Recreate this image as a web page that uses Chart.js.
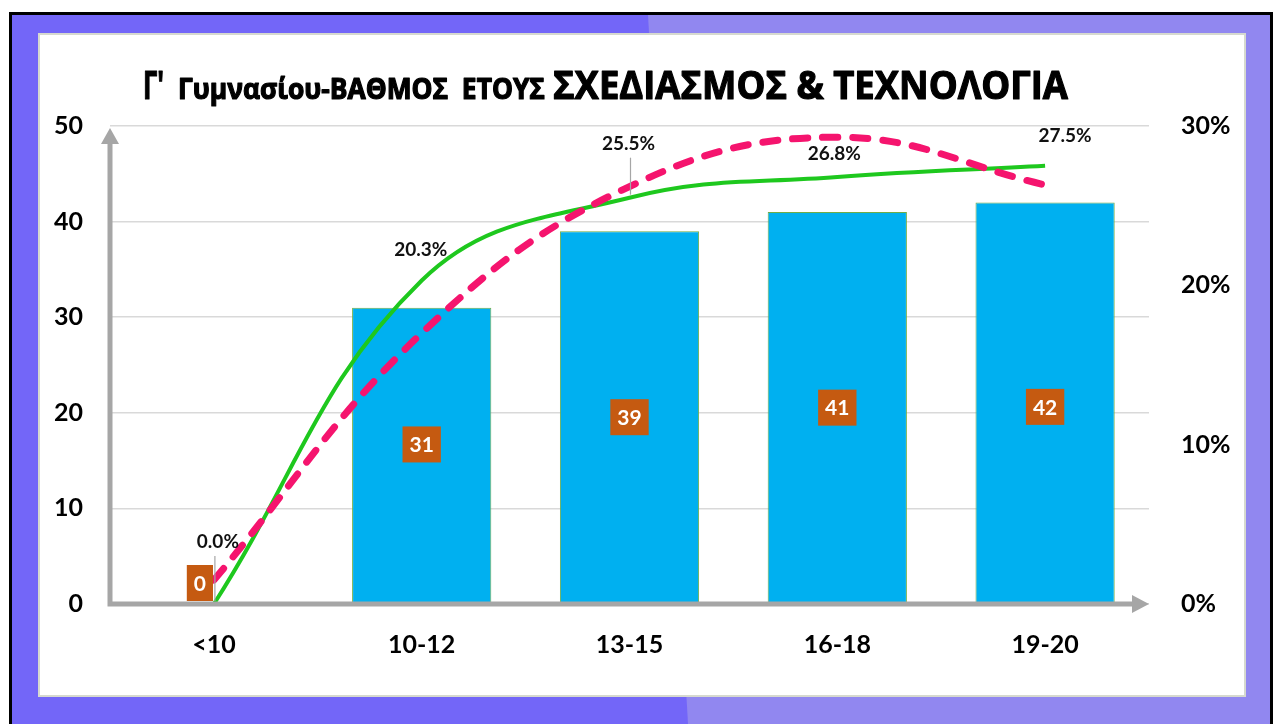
<!DOCTYPE html>
<html><head><meta charset="utf-8">
<script src="https://cdn.jsdelivr.net/npm/chart.js@4.4.1/dist/chart.umd.min.js"></script>
<style>
html,body{margin:0;padding:0;width:1276px;height:724px;overflow:hidden;background:#fff;}
#bg{position:absolute;left:9px;top:12px;width:1264px;height:712px;background:#7366f8;border-left:3px solid #000;border-top:3px solid #000;border-right:3px solid #000;box-sizing:border-box;}
#bg2{position:absolute;left:0;top:0;right:0;bottom:0;background:#9187f0;clip-path:polygon(636px 0,100% 0,100% 100%,676px 100%);}
#panel{position:absolute;left:38px;top:33px;width:1208px;height:664px;background:#fff;box-sizing:border-box;border:2px solid #d6d9cf;}
#c{position:absolute;left:0;top:0;}
</style></head>
<body>
<div id="bg"><div id="bg2"></div></div>
<div id="panel"></div>
<canvas id="c" width="1276" height="724"></canvas>
<script>
// ---- data ----
const categories = ['<10', '10-12', '13-15', '16-18', '19-20'];
const counts = [0, 31, 39, 41, 42];
const percents = [0.0, 20.3, 25.5, 26.8, 27.5];
const trendPercents = [1.5, 17.0, 26.2, 29.3, 26.3];
const leftTicks = [0, 10, 20, 30, 40, 50];
const rightTicks = ['0%', '10%', '20%', '30%'];
const titleParts = ["Γ'", "Γυμνασίου-ΒΑΘΜΟΣ  ΕΤΟΥΣ", "ΣΧΕΔΙΑΣΜΟΣ & ΤΕΧΝΟΛΟΓΙΑ"];

// ---- styling (positions / offsets) ----
const titleStyle = [
  {size: 39, x0: 143, x1: 164},
  {size: 28, x0: 178, x1: 545},
  {size: 39, x0: 553, x1: 1068}
];
const titleBaseline = 99;
const barLabelShift = [[-14, -21], [0, -11], [0, 0], [0, 0], [0, 4]];
const pctLabelShift = [[4, -62], [-1, -31], [-1, -54], [-3, -23], [20, -30]];
const pctLeader = [true, false, true, false, false];

const decor = {
  id: 'decor',
  beforeDraw(chart) {
    const ctx = chart.ctx;
    ctx.save();
    ctx.fillStyle = '#000';
    ctx.strokeStyle = '#000';
    ctx.lineJoin = 'round';
    ctx.textBaseline = 'alphabetic';
    titleParts.forEach((t, i) => {
      const s = titleStyle[i];
      ctx.font = 'bold ' + s.size + 'px "Open Sans"';
      const w = ctx.measureText(t).width;
      ctx.save();
      ctx.translate(s.x0, titleBaseline);
      ctx.scale((s.x1 - s.x0) / w, 1);
      ctx.lineWidth = 1.2;
      ctx.fillText(t, 0, 0);
      ctx.strokeText(t, 0, 0);
      ctx.restore();
    });
    ctx.restore();
  },
  afterDatasetsDraw(chart) {
    const ctx = chart.ctx;
    const a = chart.chartArea;
    ctx.save();
    // axes with arrows
    ctx.strokeStyle = '#a6a6a6';
    ctx.fillStyle = '#a6a6a6';
    ctx.lineWidth = 5;
    ctx.lineCap = 'butt';
    ctx.beginPath();
    ctx.moveTo(a.left, a.bottom);
    ctx.lineTo(a.left, a.top + 14);
    ctx.moveTo(a.left - 2.5, a.bottom);
    ctx.lineTo(a.right - 14, a.bottom);
    ctx.stroke();
    ctx.beginPath();
    ctx.moveTo(a.left, a.top + 2);
    ctx.lineTo(a.left - 9, a.top + 18);
    ctx.lineTo(a.left + 9, a.top + 18);
    ctx.closePath();
    ctx.fill();
    ctx.beginPath();
    ctx.moveTo(a.right, a.bottom);
    ctx.lineTo(a.right - 17, a.bottom - 9);
    ctx.lineTo(a.right - 17, a.bottom + 9);
    ctx.closePath();
    ctx.fill();

    // bar labels
    const barMeta = chart.getDatasetMeta(2);
    ctx.font = 'bold 21px Lato';
    ctx.textAlign = 'center';
    ctx.textBaseline = 'middle';
    barMeta.data.forEach((el, i) => {
      const cx = el.x + barLabelShift[i][0];
      const cy = (el.y + el.base) / 2 + barLabelShift[i][1];
      const txt = String(counts[i]);
      const w = ctx.measureText(txt).width + 14;
      const h = 36;
      ctx.fillStyle = '#c55a11';
      ctx.fillRect(cx - w / 2, cy - h / 2, w, h);
      ctx.fillStyle = '#fff';
      ctx.fillText(txt, cx, cy + 1);
    });

    // percent labels
    const lineMeta = chart.getDatasetMeta(1);
    ctx.font = 'bold 19px Lato';
    lineMeta.data.forEach((pt, i) => {
      const lx = pt.x + pctLabelShift[i][0];
      const ly = pt.y + pctLabelShift[i][1];
      if (pctLeader[i]) {
        ctx.strokeStyle = '#a6a6a6';
        ctx.lineWidth = 1.2;
        ctx.beginPath();
        ctx.moveTo(pt.x + 1, ly + 14);
        ctx.lineTo(pt.x + 1, pt.y - 3);
        ctx.stroke();
      }
      ctx.fillStyle = '#111';
      ctx.fillText(percents[i].toFixed(1) + '%', lx, ly);
    });
    ctx.restore();
  }
};

new Chart(document.getElementById('c'), {
  type: 'bar',
  data: {
    labels: categories,
    datasets: [
      {type: 'line', data: trendPercents, yAxisID: 'y2', borderColor: '#f5146e', borderWidth: 7,
       borderDash: [15, 15], borderCapStyle: 'round', pointRadius: 0, tension: 0.4, fill: false, order: 0, clip: false},
      {type: 'line', data: percents, yAxisID: 'y2', borderColor: '#1ec81e', borderWidth: 4,
       pointRadius: 0, tension: 0.4, fill: false, order: 1, clip: false},
      {type: 'bar', data: counts, yAxisID: 'y', backgroundColor: '#00b0f0', borderColor: '#70ad47',
       borderWidth: 1, categoryPercentage: 1, barPercentage: 0.67, order: 2}
    ]
  },
  options: {
    responsive: false,
    animation: false,
    events: [],
    layout: {padding: {top: 126, left: 0, right: 0, bottom: 0}},
    plugins: {legend: {display: false}, tooltip: {enabled: false}, title: {display: false}},
    scales: {
      x: {
        grid: {display: false, drawTicks: false},
        border: {display: false},
        ticks: {color: '#000', font: {family: 'Lato', weight: 'bold', size: 25}, padding: 26},
        afterFit: s => { s.height = 120; }
      },
      y: {
        position: 'left', min: 0, max: 50,
        afterBuildTicks: s => { s.ticks = leftTicks.map(v => ({value: v})); },
        grid: {color: '#d9d9d9', lineWidth: 1.5, drawTicks: false},
        border: {display: false},
        ticks: {color: '#000', font: {family: 'Lato', weight: 'bold', size: 25}, padding: 27},
        afterFit: s => { s.width = 110; }
      },
      y2: {
        position: 'right', min: 0, max: 30,
        afterBuildTicks: s => { s.ticks = rightTicks.map(t => ({value: parseFloat(t)})); },
        grid: {display: false, drawTicks: false},
        border: {display: false},
        ticks: {color: '#000', font: {family: 'Lato', weight: 'bold', size: 25}, padding: 32,
                callback: (v, i) => rightTicks[i]},
        afterFit: s => { s.width = 127; }
      }
    }
  },
  plugins: [decor]
});
</script>
</body></html>
